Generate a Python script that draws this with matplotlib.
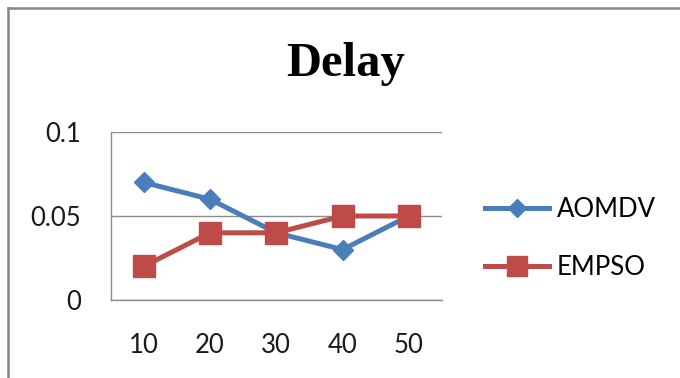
import matplotlib
matplotlib.use("Agg")
import matplotlib.pyplot as plt
from matplotlib.lines import Line2D

# Delay per node count
nodes = ["10", "20", "30", "40", "50"]
aomdv = [0.07, 0.06, 0.04, 0.03, 0.05]
empso = [0.02, 0.04, 0.04, 0.05, 0.05]
yticks = [0, 0.05, 0.1]

blue = "#4A7EBB"
red = "#BE4B48"
grid_col = "#8C8C8C"

plt.rcParams["font.family"] = ["Lato", "DejaVu Sans"]

W, H = 680, 378
fig = plt.figure(figsize=(W / 100, H / 100), dpi=100)
ax = fig.add_axes([110.5 / W, 1 - 300 / H, (442 - 110.5) / W, (300 - 132) / H])

x = range(len(nodes))
ax.plot(x, aomdv, color=blue, lw=3.6, marker="D", ms=10.5, mec=blue, label="AOMDV")
ax.plot(x, empso, color=red, lw=3.6, marker="s", ms=16, mec=red, label="EMPSO")

ax.set_xlim(-0.5, len(nodes) - 0.5)
ax.set_ylim(0, 0.1)
ax.set_xticks(list(x))
ax.set_xticklabels(nodes)
ax.set_yticks(yticks)
ax.set_yticklabels(["0", "0.05", "0.1"])
ax.tick_params(axis="both", length=0, labelsize=18.5, colors="#1a1a1a")
ax.tick_params(axis="y", pad=21)
ax.tick_params(axis="x", pad=24)

ax.grid(axis="y", color=grid_col, lw=1)
ax.set_axisbelow(True)
for side in ("top", "right"):
    ax.spines[side].set_visible(False)
for side in ("left", "bottom"):
    ax.spines[side].set_color(grid_col)
    ax.spines[side].set_linewidth(1)

fig.text(346 / W, 1 - 64 / H, "Delay", family="Liberation Serif", weight="bold",
         fontsize=35, ha="center", va="center")

fig.legend(loc="center left", bbox_to_anchor=(485 / W, 1 - 238.5 / H),
           frameon=False, fontsize=18.5, handlelength=2.5, handletextpad=0.3,
           borderpad=0, borderaxespad=0, labelspacing=1.3, markerscale=0.9)

# chart frame (top and left edges)
fig.add_artist(Line2D([7.5 / W, 1], [1 - 8 / H, 1 - 8 / H], color="#878787", lw=1.8))
fig.add_artist(Line2D([7.5 / W, 7.5 / W], [0, 1 - 8 / H], color="#878787", lw=1.8))

fig.savefig("out.png", dpi=100)
